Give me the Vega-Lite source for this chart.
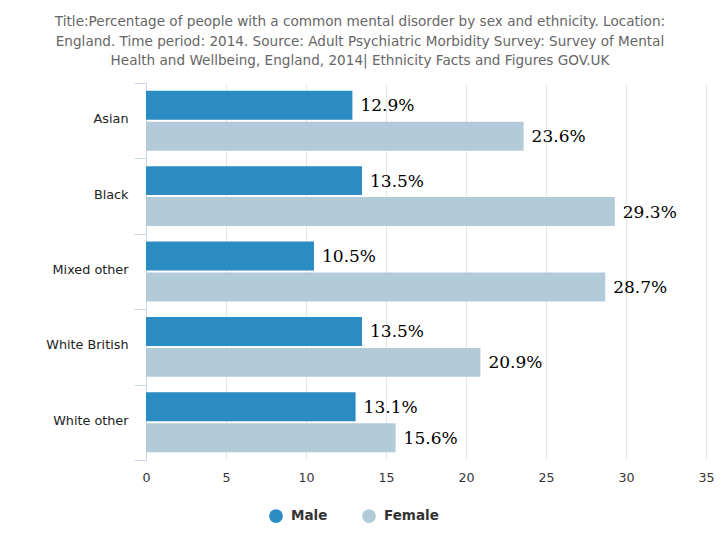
{
  "$schema": "https://vega.github.io/schema/vega-lite/v6.json",
  "width": 560,
  "height": 377,
  "autosize": {"type": "none"},
  "padding": {"left": 146, "top": 83, "right": 14, "bottom": 92},
  "background": "#ffffff",
  "title": {
    "text": ["Title:Percentage of people with a common mental disorder by sex and ethnicity. Location:", "England. Time period: 2014. Source: Adult Psychiatric Morbidity Survey: Survey of Mental", "Health and Wellbeing, England, 2014| Ethnicity Facts and Figures GOV.UK"],
    "anchor": "middle",
    "dx": -66,
    "offset": 9,
    "font": "DejaVu Sans",
    "fontSize": 13.6,
    "fontWeight": "normal",
    "color": "#666666",
    "lineHeight": 19.5
  },
  "data": {
    "values": [
      {"ethnicity": "Asian", "sex": "Male", "value": 12.9},
      {"ethnicity": "Asian", "sex": "Female", "value": 23.6},
      {"ethnicity": "Black", "sex": "Male", "value": 13.5},
      {"ethnicity": "Black", "sex": "Female", "value": 29.3},
      {"ethnicity": "Mixed other", "sex": "Male", "value": 10.5},
      {"ethnicity": "Mixed other", "sex": "Female", "value": 28.7},
      {"ethnicity": "White British", "sex": "Male", "value": 13.5},
      {"ethnicity": "White British", "sex": "Female", "value": 20.9},
      {"ethnicity": "White other", "sex": "Male", "value": 13.1},
      {"ethnicity": "White other", "sex": "Female", "value": 15.6}
    ]
  },
  "transform": [
    {"calculate": "format(datum.value, '.1f') + '%'", "as": "label"}
  ],
  "encoding": {
    "y": {
      "field": "ethnicity",
      "type": "nominal",
      "sort": null,
      "title": null,
      "scale": {"paddingInner": 0, "paddingOuter": 0},
      "axis": {
        "tickBand": "extent",
        "tickSize": 12,
        "tickColor": "#ccd6eb",
        "domainColor": "#ccd6eb",
        "labelFont": "DejaVu Sans",
        "labelFontSize": 12.8,
        "labelColor": "#222222",
        "labelPadding": 6,
        "labelOffset": -2,
        "grid": false
      }
    },
    "yOffset": {
      "field": "sex",
      "type": "nominal",
      "sort": ["Male", "Female"],
      "scale": {"paddingInner": 0.065, "paddingOuter": 0.25}
    },
    "x": {
      "field": "value",
      "type": "quantitative",
      "title": null,
      "scale": {"domain": [0, 35], "nice": false},
      "axis": {
        "values": [0, 5, 10, 15, 20, 25, 30, 35],
        "ticks": false,
        "domain": false,
        "grid": true,
        "gridColor": "#e6e6e6",
        "labelFlush": false,
        "labelFont": "DejaVu Sans",
        "labelFontSize": 12.6,
        "labelColor": "#333333",
        "labelPadding": 11
      }
    }
  },
  "layer": [
    {
      "mark": {"type": "bar"},
      "encoding": {
        "color": {
          "field": "sex",
          "type": "nominal",
          "sort": ["Male", "Female"],
          "scale": {"domain": ["Male", "Female"], "range": ["#2b8cc4", "#b3cbd9"]},
          "legend": {
            "title": null,
            "orient": "none",
            "direction": "horizontal",
            "legendX": 123,
            "legendY": 426,
            "symbolType": "circle",
            "symbolSize": 190,
            "symbolStrokeWidth": 0,
            "labelFont": "DejaVu Sans",
            "labelFontSize": 13.5,
            "labelFontWeight": "bold",
            "labelColor": "#333333",
            "labelOffset": 8,
            "columnPadding": 34
          }
        }
      }
    },
    {
      "mark": {"type": "text", "align": "left", "baseline": "middle", "dx": 8, "dy": 1, "font": "DejaVu Serif", "fontSize": 17, "color": "#000000"},
      "encoding": {
        "text": {"field": "label"}
      }
    }
  ],
  "config": {"view": {"stroke": null}}
}
